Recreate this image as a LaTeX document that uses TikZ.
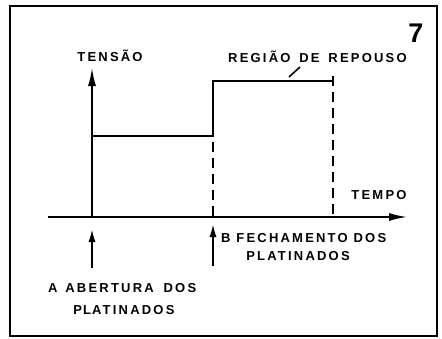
\documentclass[tikz,border=0pt]{standalone}
\usepackage{fontspec}
\newfontfamily\labfont[LetterSpace=17]{Liberation Sans}
\newfontfamily\numfont{Liberation Sans}
\usetikzlibrary{arrows.meta}
\tikzset{
  lab/.style={inner sep=0pt, font=\labfont\bfseries\fontsize{13}{13}\selectfont},
  line/.style={line width=2.3pt},
  dline/.style={line width=2.3pt, dash pattern=on 10pt off 6pt, dash phase=-6pt},
  axarr/.style={line width=2.3pt, -{Latex[length=19pt,width=8pt]}},
  evarr/.style={line width=2.3pt, -{Latex[length=14pt,width=7pt]}},
}
\begin{document}
\begin{tikzpicture}[x=1pt,y=-1pt]
\useasboundingbox (0,0) rectangle (442,338);
\draw[line width=2.6pt] (10,6) rectangle (437,336);
% coordinates
\coordinate (O) at (92,217);
\coordinate (Vtop) at (92,67);
\coordinate (Hl) at (48,217);
\coordinate (Hr) at (408,217);
\coordinate (L1) at (92,136);
\coordinate (L2) at (213,136);
\coordinate (H1) at (213,81);
\coordinate (H2) at (333,81);
\coordinate (Tt) at (333,76);
\coordinate (Tb) at (333,86);
\coordinate (D1) at (213,217);
\coordinate (D2) at (333,217);
\coordinate (LdA) at (300,67);
\coordinate (LdB) at (289,77);
\coordinate (Ab) at (92,268);
\coordinate (At) at (92,228);
\coordinate (Bb) at (213,266);
\coordinate (Bt) at (213,223);
% axes
\draw[axarr] (O) -- (Vtop);
\draw[axarr] (Hl) -- (Hr);
% signal
\draw[line] (L1) -- (L2) -- (H1) -- (H2);
\draw[line] (Tt) -- (Tb);
\draw[dline] (L2) -- (D1);
\draw[dline] (Tb) -- (D2);
\draw[line width=1.6pt] (LdA) -- (LdB);
% event arrows
\draw[evarr] (Ab) -- (At);
\draw[evarr] (Bb) -- (Bt);
% labels
\node[lab] (tensao) at (110,56) {TENSÃO};
\node[lab, anchor=west] (regiao) at (228,57) {REGIÃO\hspace{3pt} DE\hspace{3pt} REPOUSO};
\node[inner sep=0pt, font=\numfont\bfseries\fontsize{27}{27}\selectfont] (num) at (416,33) {7};
\node[lab] (tempo) at (379,195) {TEMPO};
\node[lab, anchor=west] (fech) at (221,238) {B FECHAMENTO DOS};
\node[lab] (plB) at (298,256) {PLATINADOS};
\node[lab, anchor=west] (abert) at (48,288) {A\hspace{2pt} ABERTURA\hspace{4pt} DOS};
\node[lab] (plA) at (124,310) {P\hspace{1pt}L\hspace{1pt}ATINADOS};
\end{tikzpicture}
\end{document}
